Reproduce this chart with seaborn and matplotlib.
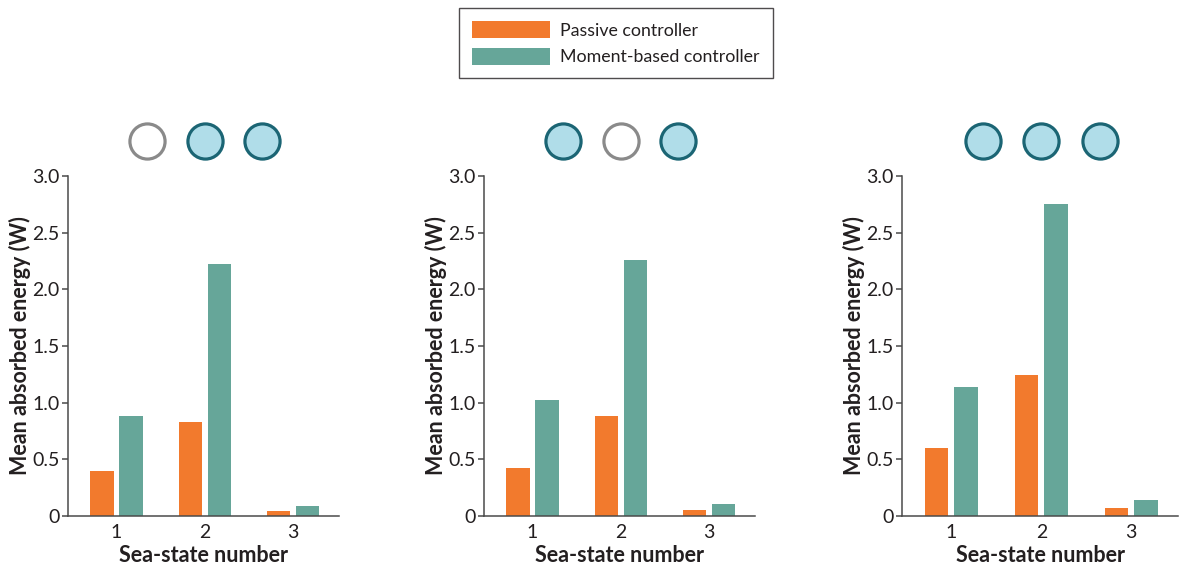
import numpy as np
import pandas as pd
import matplotlib
matplotlib.use("Agg")
import matplotlib.pyplot as plt
from matplotlib.patches import Patch
from matplotlib.transforms import blended_transform_factory
import seaborn as sns

# Mean absorbed energy (W) per sea state, for each of the three configurations
sea_states = ["1", "2", "3"]
controllers = ["Passive controller", "Moment-based controller"]
passive = [
    [0.40, 0.83, 0.044],
    [0.42, 0.88, 0.053],
    [0.60, 1.245, 0.07],
]
moment_based = [
    [0.88, 2.22, 0.088],
    [1.02, 2.26, 0.106],
    [1.14, 2.75, 0.14],
]
# Which of the three floats are active in each configuration
active_floats = [
    [False, True, True],
    [True, False, True],
    [True, True, True],
]
y_ticks = [0, 0.5, 1.0, 1.5, 2.0, 2.5, 3.0]
y_tick_labels = ["0", "0.5", "1.0", "1.5", "2.0", "2.5", "3.0"]

orange = "#F27A2D"
teal = "#66A699"
palette = {controllers[0]: orange, controllers[1]: teal}
spine_color = "#4a4a4a"
text_color = "#231f20"

sns.set_theme(style="white")
plt.rcParams["font.family"] = ["Lato", "DejaVu Sans"]
plt.rcParams["text.color"] = text_color
plt.rcParams["axes.labelcolor"] = text_color
plt.rcParams["xtick.color"] = text_color
plt.rcParams["ytick.color"] = text_color

W, H = 1182, 565
fig = plt.figure(figsize=(W / 100, H / 100), dpi=100)

# axes boxes in pixels: left, right
boxes = [(68, 339), (484, 755), (902, 1178)]
top_px, bottom_px = 176, 516

for i, (l, r) in enumerate(boxes):
    ax = fig.add_axes([l / W, 1 - bottom_px / H, (r - l) / W, (bottom_px - top_px) / H])
    df = pd.DataFrame({
        "Sea-state number": sea_states * 2,
        "energy": list(passive[i]) + list(moment_based[i]),
        "controller": [controllers[0]] * 3 + [controllers[1]] * 3,
    })
    sns.barplot(data=df, x="Sea-state number", y="energy", hue="controller",
                hue_order=controllers, palette=palette, width=0.66, gap=0.2,
                saturation=1, legend=False, ax=ax, linewidth=0)
    ax.set_xlim(-0.55, 2.52)
    ax.set_ylim(0, 3.0)
    ax.set_yticks(y_ticks)
    ax.set_yticklabels(y_tick_labels)
    ax.set_ylabel("Mean absorbed energy (W)", fontsize=15.5, fontweight="bold", labelpad=1)
    ax.set_xlabel("Sea-state number", fontsize=15.5, fontweight="bold", labelpad=3)
    ax.tick_params(axis="y", which="major", direction="out", length=4, width=1.1,
                   color=spine_color, labelsize=14, pad=2, left=True)
    ax.tick_params(axis="x", length=0, labelsize=14, pad=6)
    sns.despine(ax=ax)
    for s in ("left", "bottom"):
        ax.spines[s].set_color(spine_color)
        ax.spines[s].set_linewidth(1.1)

    # float indicators above each panel
    trans = blended_transform_factory(ax.transData, ax.transAxes)
    cx = [1 - 0.65, 1.0, 1 + 0.65]
    for x, on in zip(cx, active_floats[i]):
        ax.scatter([x], [1.1015], s=640, transform=trans, clip_on=False,
                   facecolor="#B0DDE9" if on else "white",
                   edgecolor="#1B6574" if on else "#8a8a8a", linewidth=2.3, zorder=5)

handles = [Patch(facecolor=palette[c], edgecolor="none", label=c) for c in controllers]
leg = fig.legend(handles=handles, loc="upper center", bbox_to_anchor=(616 / W, 1 - 8 / H),
                 fontsize=12.8, frameon=True, fancybox=False, handlelength=4.4,
                 handleheight=1.08, handletextpad=0.55, labelspacing=0.5,
                 borderpad=0.75, borderaxespad=0)
leg.get_frame().set_edgecolor("#231f20")
leg.get_frame().set_linewidth(1.0)

fig.savefig("out.png", dpi=100)
